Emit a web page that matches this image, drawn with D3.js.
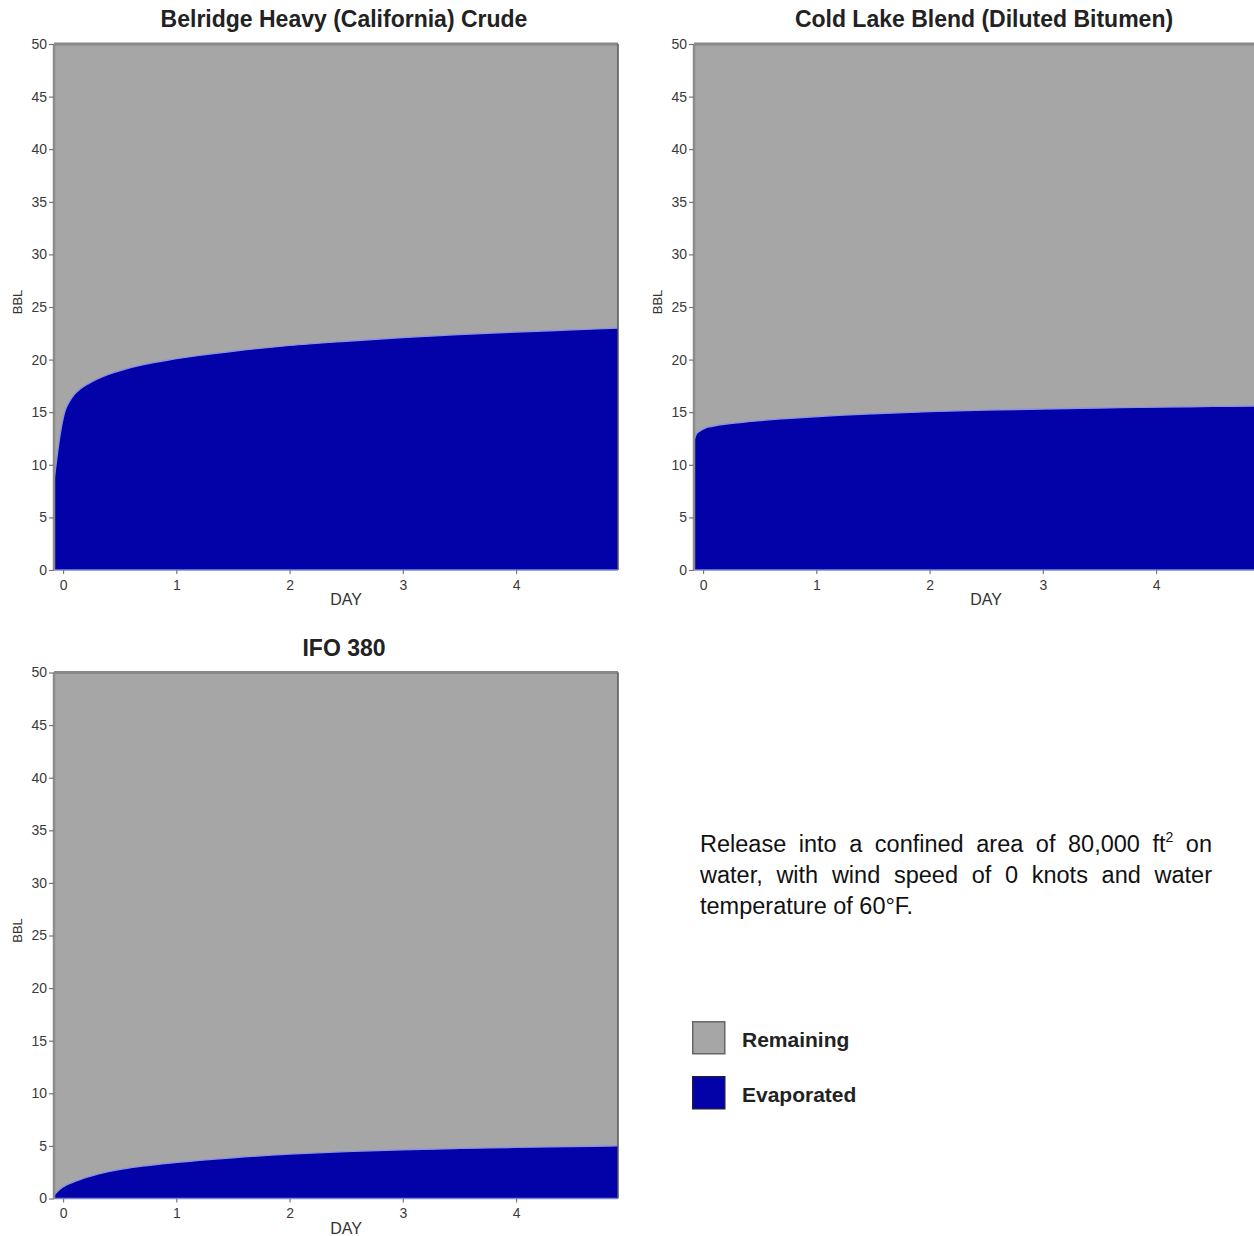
<!DOCTYPE html>
<html>
<head>
<meta charset="utf-8">
<script src="https://cdn.jsdelivr.net/npm/d3@7"></script>
<style>
  html, body { margin: 0; padding: 0; background: #fff; }
  svg { display: block; font-family: Arial, "Liberation Sans", sans-serif; }
</style>
</head>
<body>
<svg id="chart" width="1254" height="1236"></svg>
<script>
// values (BBL evaporated vs day)
var TITLES = ["Belridge Heavy (California) Crude", "Cold Lake Blend (Diluted Bitumen)", "IFO 380"]
var DAYS = [-0.08, -0.06, -0.03, 0, 0.02, 0.05, 0.1, 0.15, 0.22, 0.3, 0.4, 0.55, 0.7, 0.95, 1.2, 1.5, 2, 2.5, 3, 3.5, 4, 4.5, 4.9]
var BELRIDGE = [8.5, 10.2, 12.6, 14.4, 15.2, 15.9, 16.7, 17.2, 17.7, 18.15, 18.6, 19.1, 19.5, 20.0, 20.4, 20.8, 21.35, 21.75, 22.1, 22.38, 22.62, 22.83, 23.0]
var COLD_LAKE = [12.3, 12.9, 13.2, 13.4, 13.5, 13.6, 13.7, 13.8, 13.9, 14.0, 14.1, 14.25, 14.37, 14.55, 14.7, 14.85, 15.05, 15.2, 15.31, 15.4, 15.48, 15.55, 15.6]
var IFO_380 = [0.3, 0.55, 0.85, 1.1, 1.22, 1.38, 1.6, 1.8, 2.05, 2.3, 2.55, 2.85, 3.08, 3.38, 3.62, 3.88, 4.22, 4.46, 4.63, 4.76, 4.86, 4.94, 5.0]
var TOTAL_BBL = 50
var X_TICKS = [0, 1, 2, 3, 4]
var Y_TICKS = [0, 5, 10, 15, 20, 25, 30, 35, 40, 45, 50]
var LEGEND = ["Remaining", "Evaporated"]
var NOTE_LINES = [
	["Release", "into", "a", "confined", "area", "of", "80,000", "ft^2", "on"],
	["water,", "with", "wind", "speed", "of", "0", "knots", "and", "water"],
	["temperature", "of", "60°F."]
]

var GREY = "#a6a6a6"
var BLUE = "#0202a8"

var svg = d3.select("#chart")
svg.append("rect").attr("width", 1254).attr("height", 1236).attr("fill", "#fff")

var pw = 564, ph = 526 // plot size
var panels = [
	{title: TITLES[0], vals: BELRIDGE, left: 54, top: 44},
	{title: TITLES[1], vals: COLD_LAKE, left: 694, top: 44},
	{title: TITLES[2], vals: IFO_380, left: 54, top: 672.5}
]

panels.forEach(function(p){
	var g = svg.append("g").attr("transform", "translate(" + p.left + "," + p.top + ")")
	var x = d3.scaleLinear().domain([-0.08, 4.9]).range([0, pw])
	var y = d3.scaleLinear().domain([0, TOTAL_BBL]).range([ph, 0])
	var data = DAYS.map(function(d, i){ return {day: d, evap: p.vals[i]} })
	var crv = d3.curveMonotoneX

	// remaining (stacked on top of evaporated, up to the total)
	g.append("path").datum(data)
		.attr("fill", GREY)
		.attr("d", d3.area().curve(crv)
			.x(function(d){ return x(d.day) })
			.y0(function(d){ return y(d.evap) })
			.y1(y(TOTAL_BBL)))
	g.append("path").datum(data)
		.attr("fill", BLUE)
		.attr("d", d3.area().curve(crv)
			.x(function(d){ return x(d.day) })
			.y0(y(0))
			.y1(function(d){ return y(d.evap) }))
	g.append("path").datum(data)
		.attr("fill", "none").attr("stroke", "#8d90e0").attr("stroke-width", 1.4)
		.attr("d", d3.line().curve(crv)
			.x(function(d){ return x(d.day) })
			.y(function(d){ return y(d.evap) }))

	// frame
	g.append("line").attr("x1", 0).attr("x2", pw).attr("y1", 0).attr("y2", 0).attr("stroke", "#888").attr("stroke-width", 3)
	g.append("line").attr("x1", pw).attr("x2", pw).attr("y1", 0).attr("y2", ph).attr("stroke", "#555").attr("stroke-width", 1.5)
	g.append("line").attr("x1", 0).attr("x2", pw).attr("y1", ph).attr("y2", ph).attr("stroke", "#7f84d8").attr("stroke-width", 1.5)
	g.append("line").attr("x1", 0).attr("x2", 0).attr("y1", 0).attr("y2", ph).attr("stroke", "#8c8c8c").attr("stroke-width", 2.5)

	var ya = g.append("g").call(d3.axisLeft(y).tickValues(Y_TICKS).tickFormat(d3.format("d")).tickSize(5).tickPadding(2))
	var xa = g.append("g").attr("transform", "translate(0," + ph + ")")
		.call(d3.axisBottom(x).tickValues(X_TICKS).tickFormat(d3.format("d")).tickSize(4).tickPadding(6))
	;[ya, xa].forEach(function(a){
		a.select(".domain").remove()
		a.selectAll("line").attr("stroke", "#777").attr("stroke-width", 1.2)
		a.selectAll("text").attr("fill", "#3a3a3a").style("font-size", "14px").style("font-family", "Arial, 'Liberation Sans', sans-serif")
	})

	g.append("text").attr("x", 290).attr("y", -17).attr("text-anchor", "middle")
		.attr("font-weight", "bold").attr("font-size", 23).attr("fill", "#222").text(p.title)
	g.append("text").attr("x", 292).attr("y", ph + 35).attr("text-anchor", "middle")
		.attr("font-size", 16).attr("fill", "#333").text("DAY")
	g.append("text").attr("transform", "translate(-32," + (ph / 2 - 5) + ") rotate(-90)")
		.attr("text-anchor", "middle").attr("font-size", 13).attr("fill", "#333").text("BBL")
})

// note text, justified
var note = svg.append("g").attr("font-size", 23.5).attr("fill", "#111")
var nx0 = 700, nx1 = 1212
NOTE_LINES.forEach(function(words, li){
	var yy = 852 + li * 31
	var nodes = words.map(function(w){
		var t = note.append("text").attr("y", yy)
		var parts = w.split("^")
		t.append("tspan").text(parts[0])
		if (parts[1]) t.append("tspan").attr("font-size", 14).attr("dy", -10).text(parts[1])
		return t
	})
	var widths = nodes.map(function(n){ return n.node().getComputedTextLength() })
	var total = d3.sum(widths)
	var last = li == NOTE_LINES.length - 1
	var gap = last ? 6.5 : (nx1 - nx0 - total) / (words.length - 1)
	var cx = nx0
	nodes.forEach(function(n, i){ n.attr("x", cx); cx += widths[i] + gap })
})

// legend
var lg = svg.append("g").attr("transform", "translate(692,1021)")
LEGEND.forEach(function(name, i){
	lg.append("rect").attr("x", 0.75).attr("y", i * 55 + 0.75).attr("width", 32).attr("height", 32)
		.attr("fill", i == 0 ? GREY : BLUE).attr("stroke", i == 0 ? "#666" : "#1a1a50").attr("stroke-width", 1.5)
	lg.append("text").attr("x", 50).attr("y", i * 55 + 26)
		.attr("font-weight", "bold").attr("font-size", 21).attr("fill", "#222").text(name)
})
</script>
</body>
</html>
